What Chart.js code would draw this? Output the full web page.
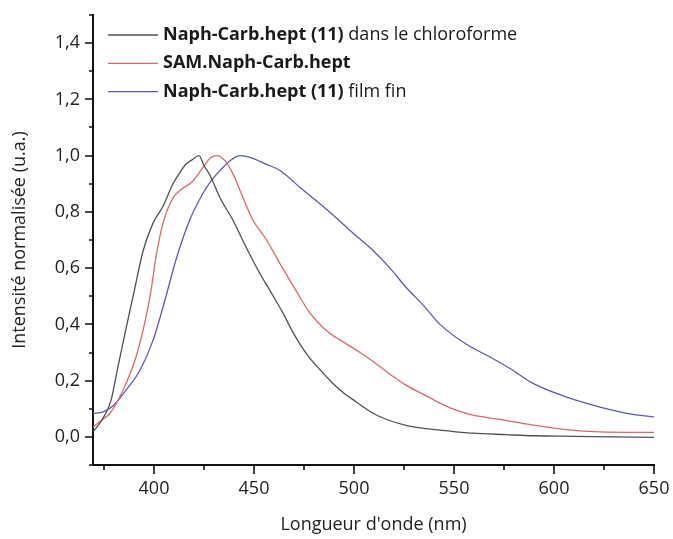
<!DOCTYPE html>
<html>
<head>
<meta charset="utf-8">
<script src="https://cdn.jsdelivr.net/npm/chart.js@4/dist/chart.umd.min.js"></script>
<style>
  html, body { margin: 0; padding: 0; background: #ffffff; }
  #wrap { position: relative; width: 673px; height: 539px; }
</style>
</head>
<body>
<div id="wrap"><canvas id="c" width="673" height="539"></canvas></div>
<script>
// ---- Data ----
const chloroNm = [369.5, 372, 374.5, 378.5, 382, 386, 390, 394.5, 399.5, 404.5, 409.5, 413, 416, 419, 422.5, 425, 428, 433, 439.5, 446, 453, 458, 464.5, 469, 473, 477, 481, 489.5, 495, 501, 509.5, 517, 526, 535, 543, 551, 559.5, 576, 590, 610, 630, 650];
const chloroVal = [0.018, 0.04, 0.066, 0.13, 0.25, 0.385, 0.515, 0.66, 0.76, 0.82, 0.90, 0.94, 0.97, 0.985, 1.0, 0.965, 0.93, 0.85, 0.77, 0.675, 0.58, 0.52, 0.44, 0.378, 0.33, 0.288, 0.254, 0.19, 0.155, 0.125, 0.084, 0.06, 0.041, 0.03, 0.024, 0.018, 0.013, 0.008, 0.004, 0.002, 0.0, -0.002];

const samNm = [369.5, 374, 378, 384.5, 391, 396, 398.5, 401, 404.5, 409.5, 413, 419.5, 424.5, 428.5, 431.5, 435.5, 439.5, 444.5, 449.5, 456.3, 463, 471, 478, 485, 489.5, 493, 503, 509.5, 517, 526, 535, 543, 551, 559.5, 573, 589.5, 606, 623, 650];
const samVal = [0.035, 0.06, 0.084, 0.166, 0.284, 0.426, 0.52, 0.64, 0.76, 0.85, 0.876, 0.91, 0.958, 0.994, 1.0, 0.982, 0.935, 0.85, 0.77, 0.70, 0.616, 0.52, 0.44, 0.385, 0.36, 0.345, 0.30, 0.268, 0.228, 0.184, 0.15, 0.12, 0.095, 0.077, 0.062, 0.042, 0.026, 0.018, 0.016];

const filmNm = [369.5, 374.5, 379.5, 386, 393, 399.5, 406, 411, 417.8, 424, 428, 433, 438, 443, 448, 456, 463, 473, 483, 493, 498, 509.5, 518, 526, 535, 543, 556, 568, 578, 589.5, 606, 623, 639.5, 650];
const filmVal = [0.083, 0.089, 0.11, 0.166, 0.237, 0.343, 0.50, 0.63, 0.77, 0.86, 0.905, 0.947, 0.982, 1.0, 0.994, 0.97, 0.947, 0.887, 0.829, 0.767, 0.734, 0.663, 0.6, 0.532, 0.465, 0.40, 0.33, 0.284, 0.243, 0.19, 0.142, 0.106, 0.08, 0.071];

const legendBold = ['Naph-Carb.hept (11)', 'SAM.Naph-Carb.hept', 'Naph-Carb.hept (11)'];
const legendNormal = [' dans le chloroforme', '', ' film fin'];
const seriesColors = ['#505050', '#d8686a', '#5a5ab2'];

const xMajorTicks = [400, 450, 500, 550, 600, 650];
const xMinorTicks = [375, 425, 475, 525, 575, 625];
const yMajorTicks = [0.0, 0.2, 0.4, 0.6, 0.8, 1.0, 1.2, 1.4];
const yMinorTicks = [-0.1, 0.1, 0.3, 0.5, 0.7, 0.9, 1.1, 1.3, 1.5];

const xTitle = "Longueur d'onde (nm)";
const yTitle = 'Intensité normalisée (u.a.)';

const FONT = "'Open Sans', 'DejaVu Sans', sans-serif";

function pts(xs, ys) { return xs.map((x, i) => ({ x: x, y: ys[i] })); }

const tickPlugin = {
  id: 'tickMarks',
  afterDraw(chart) {
    const ctx = chart.ctx;
    const xs = chart.scales.x, ys = chart.scales.y;
    const xb = chart.chartArea.bottom, yl = chart.chartArea.left;
    ctx.save();
    ctx.strokeStyle = '#111';
    ctx.lineWidth = 1.6;
    ctx.beginPath();
    xMajorTicks.forEach(v => { const p = Math.round(xs.getPixelForValue(v)); ctx.moveTo(p, xb); ctx.lineTo(p, xb + 9); });
    xMinorTicks.forEach(v => { const p = Math.round(xs.getPixelForValue(v)); ctx.moveTo(p, xb); ctx.lineTo(p, xb + 5); });
    yMajorTicks.forEach(v => { const p = Math.round(ys.getPixelForValue(v)); ctx.moveTo(yl, p); ctx.lineTo(yl - 8, p); });
    yMinorTicks.forEach(v => { const p = Math.round(ys.getPixelForValue(v)); ctx.moveTo(yl, p); ctx.lineTo(yl - 4, p); });
    ctx.stroke();
    ctx.restore();
  }
};

const legendPlugin = {
  id: 'mixedLegend',
  afterDraw(chart) {
    const ctx = chart.ctx;
    const a = chart.chartArea;
    const rows = [20, 48.3, 76.7];
    ctx.save();
    ctx.textBaseline = 'middle';
    chart.data.datasets.forEach((ds, i) => {
      const y = a.top + rows[i];
      ctx.strokeStyle = ds.borderColor;
      ctx.lineWidth = 1.3;
      ctx.beginPath();
      ctx.moveTo(a.left + 15, y);
      ctx.lineTo(a.left + 65, y);
      ctx.stroke();
      let x = a.left + 70;
      ctx.fillStyle = '#1a1a1a';
      ctx.font = 'bold 18px ' + FONT;
      ctx.fillText(legendBold[i], x, y);
      x += ctx.measureText(legendBold[i]).width;
      if (legendNormal[i]) {
        ctx.font = '18px ' + FONT;
        ctx.fillText(legendNormal[i], x, y);
      }
    });
    ctx.restore();
  }
};

new Chart(document.getElementById('c'), {
  type: 'line',
  data: {
    datasets: [
      { label: legendBold[0] + legendNormal[0], data: pts(chloroNm, chloroVal), borderColor: seriesColors[0] },
      { label: legendBold[1] + legendNormal[1], data: pts(samNm, samVal), borderColor: seriesColors[1] },
      { label: legendBold[2] + legendNormal[2], data: pts(filmNm, filmVal), borderColor: seriesColors[2] }
    ]
  },
  options: {
    responsive: false,
    animation: false,
    events: [],
    elements: {
      line: { borderWidth: 1.3, tension: 0.35, cubicInterpolationMode: 'monotone', fill: false },
      point: { radius: 0 }
    },
    layout: { padding: { left: 0, right: 19, top: 15, bottom: 0 } },
    plugins: { legend: { display: false }, tooltip: { enabled: false } },
    scales: {
      x: {
        type: 'linear',
        min: 369.5, max: 650,
        afterBuildTicks: (s) => { s.ticks = xMajorTicks.map(v => ({ value: v })); },
        afterFit: (s) => { s.height = 74; s.paddingLeft = 0; s.paddingRight = 0; },
        grid: { display: false, drawTicks: false },
        border: { display: true, color: '#111', width: 2 },
        ticks: { padding: 13, color: '#222', font: { family: FONT, size: 18 }, maxRotation: 0, autoSkip: false,
                 callback: (v) => String(v) },
        title: { display: true, text: xTitle, color: '#222', font: { family: FONT, size: 18 }, padding: { top: 0, bottom: 3 } }
      },
      y: {
        type: 'linear',
        min: -0.1, max: 1.5,
        afterBuildTicks: (s) => { s.ticks = yMajorTicks.map(v => ({ value: v })); },
        afterFit: (s) => { s.width = 93; s.paddingTop = 0; s.paddingBottom = 0; },
        grid: { display: false, drawTicks: false },
        border: { display: true, color: '#111', width: 2 },
        ticks: { padding: 13, color: '#222', font: { family: FONT, size: 18 }, autoSkip: false,
                 callback: (v) => v.toFixed(1).replace('.', ',') },
        title: { display: true, text: yTitle, color: '#222', font: { family: FONT, size: 18 }, padding: { top: 9, bottom: 0 } }
      }
    }
  },
  plugins: [tickPlugin, legendPlugin]
});
</script>
</body>
</html>
